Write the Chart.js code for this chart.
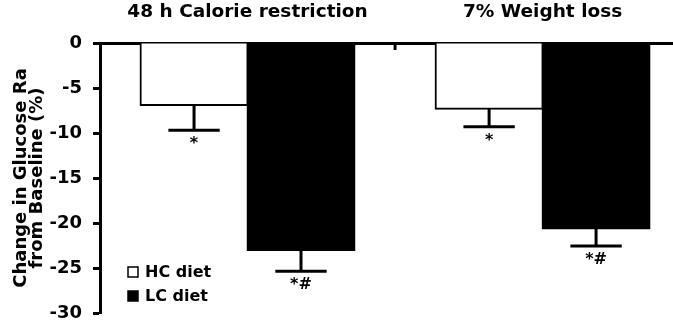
<!DOCTYPE html>
<html>
<head>
<meta charset="utf-8">
<script src="https://cdn.jsdelivr.net/npm/chart.js@4/dist/chart.umd.min.js"></script>
<style>
  html, body { margin: 0; padding: 0; background: #fff; overflow: hidden; }
  #wrap { width: 673px; height: 329px; position: relative; }
</style>
</head>
<body>
<div id="wrap"><canvas id="c" width="673" height="329"></canvas></div>
<script>
// ---- data ----
const categories = ['48 h Calorie restriction', '7% Weight loss'];
const seriesNames = ['HC diet', 'LC diet'];
const hcValues = [-6.9, -7.3];
const hcErrors = [2.8, 2.0];
const lcValues = [-23.0, -20.6];
const lcErrors = [2.35, 1.95];
const hcMarks = ['*', '*'];
const lcMarks = ['*#', '*#'];
const yTicks = [-30, -25, -20, -15, -10, -5, 0];

const FONT = "'DejaVu Sans', sans-serif";

const errorBarPlugin = {
  id: 'errorBars',
  afterDatasetsDraw(chart) {
    const ctx = chart.ctx;
    const y = chart.scales.y;
    const xs = chart.scales.x;
    ctx.save();
    ctx.strokeStyle = '#000';
    ctx.fillStyle = '#000';
    ctx.lineWidth = 3;
    // separator ticks between categories (drawn downward from the axis)
    for (let i = 1; i < categories.length; i++) {
      const px = xs.getPixelForValue(i);
      ctx.beginPath();
      ctx.moveTo(px, chart.chartArea.top);
      ctx.lineTo(px, chart.chartArea.top + 7);
      ctx.stroke();
    }
    chart.data.datasets.forEach((ds, di) => {
      const meta = chart.getDatasetMeta(di);
      meta.data.forEach((el, i) => {
        const v = ds.data[i].y;
        const e = ds.errors[i];
        const y0 = y.getPixelForValue(v);
        const y1 = y.getPixelForValue(v - e);
        const capW = el.width * 0.48;
        ctx.beginPath();
        ctx.moveTo(el.x, y0);
        ctx.lineTo(el.x, y1);
        ctx.moveTo(el.x - capW / 2, y1);
        ctx.lineTo(el.x + capW / 2, y1);
        ctx.stroke();
        ctx.font = 'bold 16px ' + FONT;
        ctx.textAlign = 'center';
        ctx.textBaseline = 'top';
        ctx.fillText(ds.marks[i], el.x, y1 + 6);
      });
    });
    ctx.restore();
  },
  afterDraw(chart) {
    const ctx = chart.ctx;
    const a = chart.chartArea;
    ctx.save();
    ctx.font = 'bold 16px ' + FONT;
    ctx.textAlign = 'left';
    ctx.textBaseline = 'middle';
    chart.data.datasets.forEach((ds, di) => {
      const cy = a.bottom - 41 + di * 24;
      const sx = a.left + 28;
      ctx.fillStyle = ds.backgroundColor;
      ctx.fillRect(sx, cy - 5, 10, 10);
      ctx.strokeStyle = '#000';
      ctx.lineWidth = 1.5;
      ctx.strokeRect(sx, cy - 5, 10, 10);
      ctx.fillStyle = '#000';
      ctx.fillText(ds.label, sx + 17, cy + 1);
    });
    ctx.restore();
  }
};

new Chart(document.getElementById('c'), {
  type: 'bar',
  data: {
    datasets: [
      {
        label: seriesNames[0],
        data: hcValues.map((v, i) => ({ x: i + 0.5, y: v })),
        errors: hcErrors,
        marks: hcMarks,
        backgroundColor: '#ffffff',
        borderColor: '#000000',
        borderWidth: 2,
        inflateAmount: 1
      },
      {
        label: seriesNames[1],
        data: lcValues.map((v, i) => ({ x: i + 0.5, y: v })),
        errors: lcErrors,
        marks: lcMarks,
        backgroundColor: '#000000',
        borderColor: '#000000',
        borderWidth: 2,
        inflateAmount: 1
      }
    ]
  },
  options: {
    responsive: false,
    animation: false,
    devicePixelRatio: 1,
    categoryPercentage: 0.725,
    barPercentage: 1.0,
    layout: { padding: { top: 0, right: 0, bottom: 16, left: 0 } },
    plugins: { legend: { display: false }, tooltip: { enabled: false }, title: { display: false } },
    scales: {
      x: {
        type: 'linear',
        position: 'top',
        offset: false,
        min: 0,
        max: 1.942,
        afterBuildTicks(scale) {
          scale.ticks = categories.map((c, i) => ({ value: i + 0.5 }));
        },
        afterFit(scale) { scale.height = 43; },
        ticks: {
          callback: (v, i) => categories[i],
          maxRotation: 0,
          autoSkip: false,
          padding: 20,
          color: '#000',
          font: { family: FONT, size: 18.5, weight: 'bold' }
        },
        grid: { display: false, drawTicks: false },
        border: { display: true, color: '#000', width: 3 }
      },
      y: {
        min: -30,
        max: 0,
        afterBuildTicks(scale) {
          scale.ticks = yTicks.map(v => ({ value: v }));
        },
        afterFit(scale) {
          scale.width = 100;
          scale.paddingTop = 0;
          scale.paddingBottom = 0;
        },
        ticks: {
          color: '#000',
          padding: 11,
          font: { family: FONT, size: 18, weight: 'bold' }
        },
        grid: { drawOnChartArea: false, tickLength: 7, tickWidth: 3, tickColor: '#000', color: '#000' },
        border: { display: true, color: '#000', width: 3 },
        title: {
          display: true,
          text: ['Change in Glucose Ra', 'from Baseline (%)'],
          color: '#000',
          font: { family: FONT, size: 18, weight: 'bold', lineHeight: 0.85 },
          padding: { top: 14, bottom: 0 }
        }
      }
    }
  },
  plugins: [errorBarPlugin]
});
</script>
</body>
</html>
